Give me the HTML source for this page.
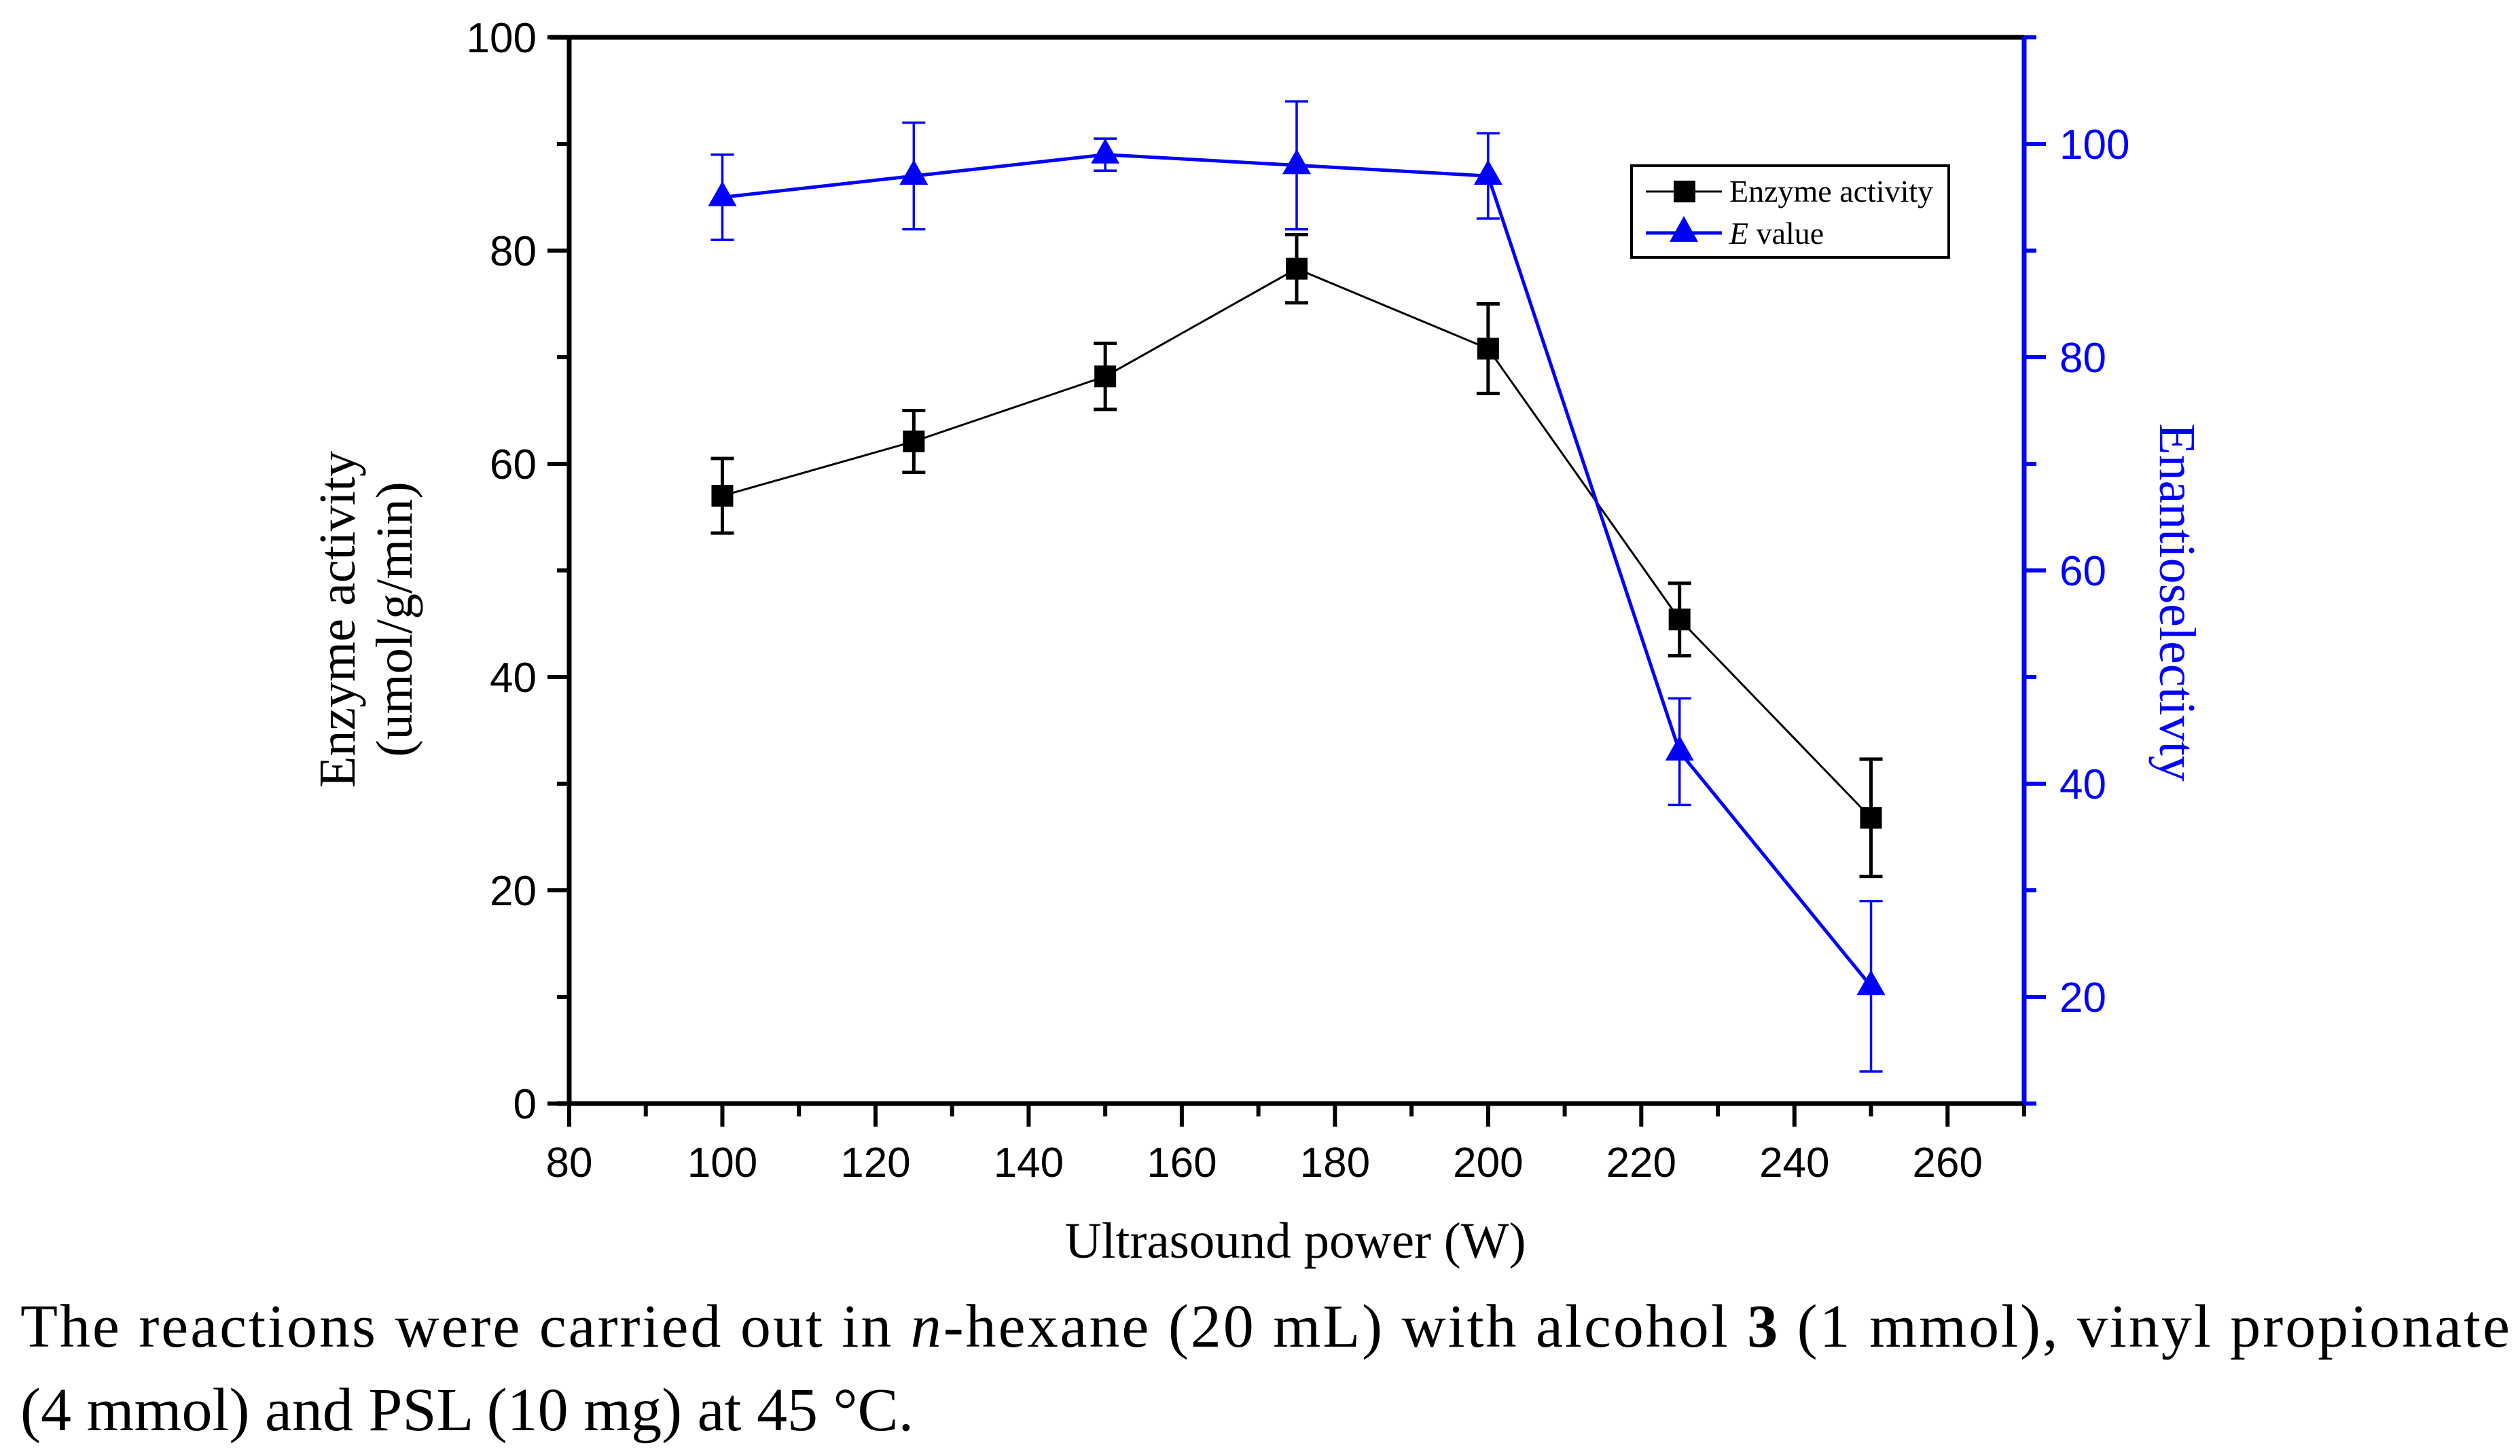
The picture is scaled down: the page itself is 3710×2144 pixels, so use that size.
<!DOCTYPE html>
<html><head><meta charset="utf-8"><style>
html,body{margin:0;padding:0;background:#fff;}
svg{display:block;}
.tk{font-family:"Liberation Sans",Arial,sans-serif;font-size:62px;}
.ser{font-family:"Liberation Serif","Times New Roman",serif;}
</style></head><body>
<svg id="chart" width="3710" height="2144" viewBox="0 0 3710 2144" xmlns="http://www.w3.org/2000/svg">
<g id="axes"></g>
<g id="series"></g>
<g>
  <rect x="2402" y="244" width="467" height="135" fill="#fff" stroke="#000" stroke-width="4"/>
  <line x1="2423" y1="282" x2="2535" y2="282" stroke="#000" stroke-width="3"/>
  <rect x="2464" y="266" width="32" height="32" fill="#000"/>
  <text x="2546" y="297" class="ser" font-size="46">Enzyme activity</text>
  <line x1="2423" y1="343" x2="2535" y2="343" stroke="#0000ff" stroke-width="5"/>
  <polygon points="2479,318 2500,356 2458,356" fill="#0000ff"/>
  <text x="2546" y="359" class="ser" font-size="46"><tspan font-style="italic">E</tspan> value</text>
</g>
<text x="1907" y="1852" class="ser" font-size="75" text-anchor="middle">Ultrasound power (W)</text>
<g transform="translate(522,912) rotate(-90)">
  <text x="0" y="0" class="ser" font-size="76" text-anchor="middle">Enzyme activity</text>
  <text x="0" y="84" class="ser" font-size="76" text-anchor="middle">(umol/g/min)</text>
</g>
<text transform="translate(3180,887) rotate(90)" class="ser" font-size="76" text-anchor="middle" fill="#0000ff">Enantioselectivty</text>
<text x="30" y="1983" class="ser" font-size="90" textLength="3665" lengthAdjust="spacing">The reactions were carried out in <tspan font-style="italic">n</tspan>-hexane (20 mL) with alcohol <tspan font-weight="bold">3</tspan> (1 mmol), vinyl propionate</text>
<text x="30" y="2106" class="ser" font-size="90">(4 mmol) and PSL (10 mg) at 45 °C.</text>
</svg>
<script>
const powers = [100,125,150,175,200,225,250];
const activity = [57,62.1,68.2,78.3,70.8,45.4,26.8];
const activityErr = [3.5,2.9,3.1,3.2,4.2,3.4,5.5];
const eValue = [95,97,99,98,97,43,21];
const eErr = [4,5,1.5,6,4,5,8];
const xTicks = [80,100,120,140,160,180,200,220,240,260];
const yLeftTicks = [0,20,40,60,80,100];
const yRightTicks = [20,40,60,80,100];

const L=838,R=2980,T=55,B=1625;
const X=v=>L+(v-80)*(R-L)/190;
const YL=v=>B-v*(B-T)/100;
const YR=v=>B-(v-10)*(B-T)/100;
const NS='http://www.w3.org/2000/svg';
function mk(parent,tag,attrs){const e=document.createElementNS(NS,tag);for(const k in attrs)e.setAttribute(k,attrs[k]);parent.appendChild(e);return e;}
const ax=document.getElementById('axes');
const se=document.getElementById('series');

let e;
e=mk(ax,'line',{x1:L-28,y1:T,x2:R,y2:T,stroke:'#000','stroke-width':7});


e=mk(ax,'line',{x1:L,y1:T,x2:L,y2:B,stroke:'#000','stroke-width':7});


e=mk(ax,'line',{x1:L-18,y1:B,x2:R,y2:B,stroke:'#000','stroke-width':7});


for(let v=80;v<=270;v+=10){
  const major=(v%20===0);
  mk(ax,'line',{x1:X(v),y1:B,x2:X(v),y2:B+(major?34:19),stroke:'#000','stroke-width':6});
}
xTicks.forEach(v=>{
  const t=mk(ax,'text',{x:X(v),y:B+108,'text-anchor':'middle',class:'tk'});
  t.textContent=v;
  
  
});
for(let v=0;v<=100;v+=10){
  const major=(v%20===0);
  mk(ax,'line',{x1:L,y1:YL(v),x2:L-(major?32:18),y2:YL(v),stroke:'#000','stroke-width':6});
}
yLeftTicks.forEach(v=>{
  const t=mk(ax,'text',{x:L-48,y:YL(v)+22,'text-anchor':'end',class:'tk'});
  t.textContent=v;
  
  
});
e=mk(ax,'line',{x1:R,y1:T,x2:R,y2:B,stroke:'#0000ff','stroke-width':7});


for(let v=10;v<=110;v+=10){
  const major=(v%20===0);
  mk(ax,'line',{x1:R,y1:YR(v),x2:R+(major?32:18),y2:YR(v),stroke:'#0000ff','stroke-width':6});
}
yRightTicks.forEach(v=>{
  const t=mk(ax,'text',{x:R+52,y:YR(v)+22,'text-anchor':'start',class:'tk',fill:'#0000ff'});
  t.textContent=v;
  
  
});

const blackPts=powers.map((p,i)=>X(p)+','+YL(activity[i])).join(' ');
e=mk(se,'polyline',{points:blackPts,fill:'none',stroke:'#000','stroke-width':3});


powers.forEach((p,i)=>{
  const x=X(p),y1=YL(activity[i]+activityErr[i]),y2=YL(activity[i]-activityErr[i]);
  const g=mk(se,'g',{stroke:'#000','stroke-width':5});
  
  
  mk(g,'line',{x1:x,y1:y1,x2:x,y2:y2});
  mk(g,'line',{x1:x-17,y1:y1,x2:x+17,y2:y1});
  mk(g,'line',{x1:x-17,y1:y2,x2:x+17,y2:y2});
  const r=mk(se,'rect',{x:x-16,y:YL(activity[i])-16,width:32,height:32,fill:'#000'});
  
  
});
const bluePts=powers.map((p,i)=>X(p)+','+YR(eValue[i])).join(' ');
e=mk(se,'polyline',{points:bluePts,fill:'none',stroke:'#0000ff','stroke-width':5});


powers.forEach((p,i)=>{
  const x=X(p),y=YR(eValue[i]),y1=YR(eValue[i]+eErr[i]),y2=YR(eValue[i]-eErr[i]);
  const g=mk(se,'g',{stroke:'#0000ff','stroke-width':3.5});
  
  
  mk(g,'line',{x1:x,y1:y1,x2:x,y2:y2});
  mk(g,'line',{x1:x-17,y1:y1,x2:x+17,y2:y1});
  mk(g,'line',{x1:x-17,y1:y2,x2:x+17,y2:y2});
  const tr=mk(se,'polygon',{points:`${x},${y-24} ${x+21},${y+13} ${x-21},${y+13}`,fill:'#0000ff'});
  
  
});
</script>
</body></html>
